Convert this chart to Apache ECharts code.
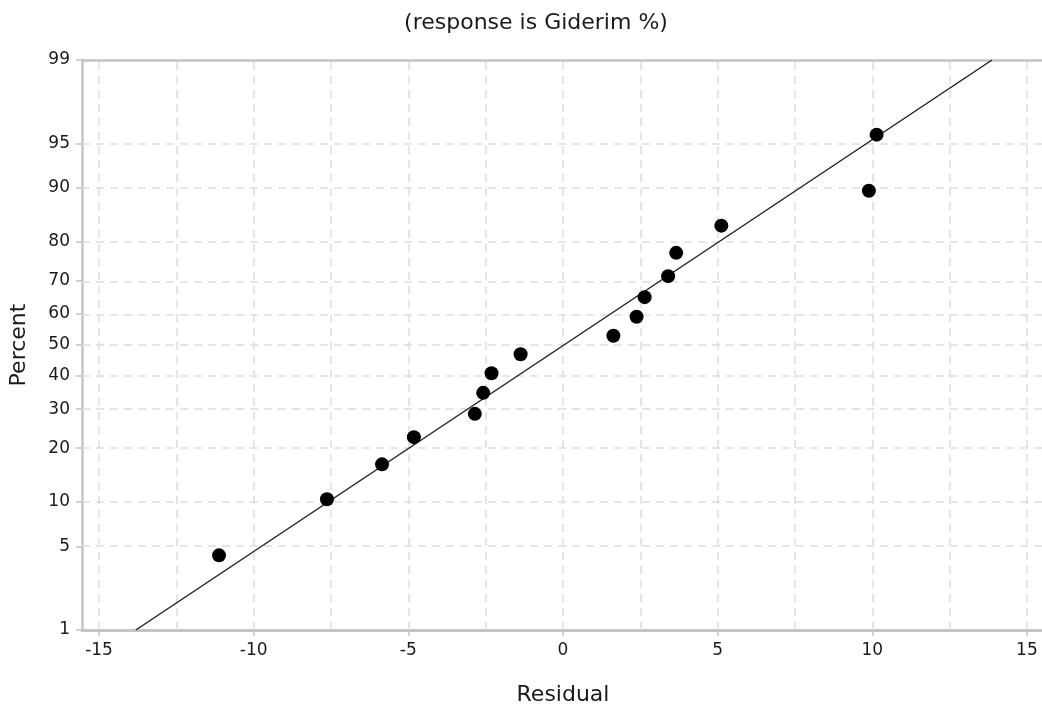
<!DOCTYPE html>
<html>
<head>
<meta charset="utf-8">
<script src="https://cdn.jsdelivr.net/npm/echarts@6/dist/echarts.min.js"></script>
<style>
html,body{margin:0;padding:0;background:#fff;}
#chart{width:1042px;height:710px;}
</style>
</head>
<body>
<div id="chart"></div>
<script>
// ---- data ----
var residuals = [-11.12, -7.63, -5.85, -4.82, -2.85, -2.58, -2.31, -1.37, 1.63, 2.38, 2.64, 3.40, 3.66, 5.12, 9.89, 10.14];
var percents  = [4.3, 10.4, 16.5, 22.6, 28.7, 34.8, 40.9, 47.0, 53.0, 59.1, 65.2, 71.3, 77.4, 83.5, 89.6, 95.7];
var fitLineX = [-13.81, 13.87];
var fitLinePct = [1, 99];
var percentTicks = [1, 5, 10, 20, 30, 40, 50, 60, 70, 80, 90, 95, 99];
var residualTicks = [-15, -10, -5, 0, 5, 10, 15];
var residualGrid = [-15, -12.5, -10, -7.5, -5, -2.5, 0, 2.5, 5, 7.5, 10, 12.5, 15];

// inverse normal CDF (probability scale transform)
function probit(p) {
  var a = [-3.969683028665376e+01, 2.209460984245205e+02, -2.759285104469687e+02, 1.383577518672690e+02, -3.066479806614716e+01, 2.506628277386304e+00];
  var b = [-5.447609879822406e+01, 1.615858368580409e+02, -1.556989798598866e+02, 6.680131188771972e+01, -1.328068155288572e+01];
  var c = [-7.784894002430293e-03, -3.223964580411365e-01, -2.400758277161838e+00, -2.549671323678147e+00, 4.374664141464968e+00, 2.938163982698783e+00];
  var d = [7.784695709041462e-03, 3.224671290700398e-01, 2.445134137142996e+00, 3.754408661907416e+00];
  var plow = 0.02425, q, r;
  if (p < plow) {
    q = Math.sqrt(-2 * Math.log(p));
    return (((((c[0]*q+c[1])*q+c[2])*q+c[3])*q+c[4])*q+c[5]) / ((((d[0]*q+d[1])*q+d[2])*q+d[3])*q+1);
  } else if (p <= 1 - plow) {
    q = p - 0.5; r = q*q;
    return (((((a[0]*r+a[1])*r+a[2])*r+a[3])*r+a[4])*r+a[5])*q / (((((b[0]*r+b[1])*r+b[2])*r+b[3])*r+b[4])*r+1);
  } else {
    q = Math.sqrt(-2 * Math.log(1 - p));
    return -(((((c[0]*q+c[1])*q+c[2])*q+c[3])*q+c[4])*q+c[5]) / ((((d[0]*q+d[1])*q+d[2])*q+d[3])*q+1);
  }
}
function z(pct) { return probit(pct / 100); }

var zTicks = percentTicks.map(z);
var points = residuals.map(function (r, i) { return [r, z(percents[i])]; });
var linePts = fitLineX.map(function (x, i) { return [x, z(fitLinePct[i])]; });

var FONT = 'DejaVu Sans';
var AXIS_GRAY = '#c4c4c4';
var gridLineStyle = { color: '#dddddd', width: 1.5, type: [8, 6] };
var markLineData = [];
residualGrid.forEach(function (v) { markLineData.push({ xAxis: v }); });
zTicks.forEach(function (v, i) { if (i > 0 && i < zTicks.length - 1) markLineData.push({ yAxis: v }); });

var chart = echarts.init(document.getElementById('chart'));
chart.setOption({
  animation: false,
  backgroundColor: '#ffffff',
  textStyle: { fontFamily: FONT },
  title: {
    text: '(response is Giderim %)',
    left: 531, top: 7, textAlign: 'center',
    textStyle: { fontFamily: FONT, fontSize: 22, fontWeight: 'normal', color: '#1a1a1a' }
  },
  grid: {
    left: 82, top: 60, width: 972, height: 570,
    outerBoundsMode: 'none', containLabel: false, show: false
  },
  xAxis: [{
    type: 'value', min: -15.55, max: 15.875,
    name: 'Residual', nameLocation: 'middle', nameGap: 54,
    nameTextStyle: { fontSize: 22, color: '#1a1a1a', fontFamily: FONT, padding: [0, 10, 0, 0] },
    axisLine: { show: true, onZero: false, lineStyle: { color: AXIS_GRAY, width: 3 } },
    axisTick: { show: true, customValues: residualTicks, length: 6, lineStyle: { color: AXIS_GRAY, width: 1.5 } },
    axisLabel: { customValues: residualTicks, fontSize: 17, color: '#1a1a1a', margin: 12, fontFamily: FONT },
    splitLine: { show: false }
  }, {
    type: 'value', position: 'top', min: -15.55, max: 15.875,
    axisLine: { show: true, onZero: false, lineStyle: { color: AXIS_GRAY, width: 2.5 } },
    axisTick: { show: false }, axisLabel: { show: false }, splitLine: { show: false }
  }],
  yAxis: {
    type: 'value', min: z(1), max: z(99),
    name: 'Percent', nameLocation: 'middle', nameGap: 52, nameRotate: 90,
    nameTextStyle: { fontSize: 22, color: '#1a1a1a', fontFamily: FONT },
    axisLine: { show: true, onZero: false, lineStyle: { color: AXIS_GRAY, width: 2.5 } },
    axisTick: { show: true, customValues: zTicks, length: 6, lineStyle: { color: AXIS_GRAY, width: 1.5 } },
    axisLabel: {
      customValues: zTicks, fontSize: 17, color: '#1a1a1a', margin: 12, fontFamily: FONT,
      formatter: function (v) {
        for (var i = 0; i < zTicks.length; i++) { if (Math.abs(zTicks[i] - v) < 1e-6) return String(percentTicks[i]); }
        return '';
      }
    },
    splitLine: { show: false }
  },
  series: [
    {
      type: 'line', data: [], silent: true,
      markLine: { silent: true, symbol: 'none', label: { show: false }, lineStyle: gridLineStyle, data: markLineData, z: 1 }
    },
    {
      type: 'line', data: linePts, showSymbol: false, symbol: 'none',
      lineStyle: { color: '#222', width: 1.5 }, z: 3
    },
    {
      type: 'scatter', data: points, symbol: 'circle', symbolSize: 14,
      itemStyle: { color: '#000', opacity: 1 }, z: 4
    }
  ]
});
</script>
</body>
</html>
